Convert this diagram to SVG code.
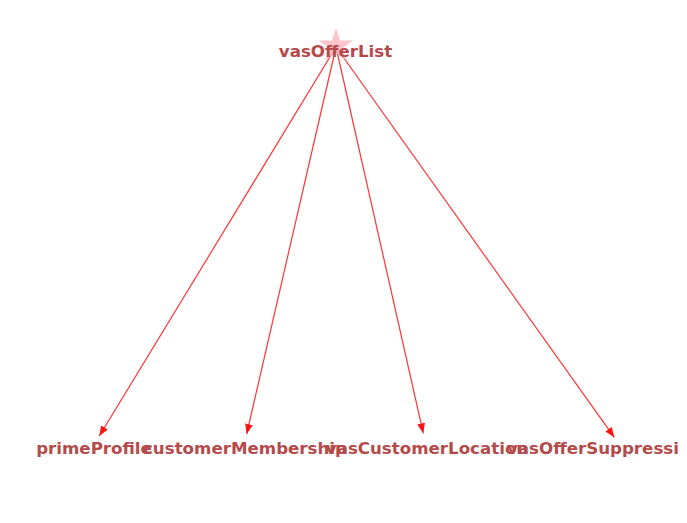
<svg xmlns="http://www.w3.org/2000/svg" width="687" height="523" viewBox="0 0 687 523">
<style>
.lbl{font-family:"DejaVu Sans","Liberation Sans",sans-serif;font-weight:bold;font-size:16.67px;fill:#b44b4b;}
.edge{stroke:#ff0000;stroke-opacity:0.8;stroke-width:1.2;fill:none;marker-end:url(#ah);}
</style>
<defs>
<marker id="ah" markerUnits="userSpaceOnUse" markerWidth="10" markerHeight="8" refX="10" refY="4" orient="auto">
<path d="M0,0 L10,4 L0,8 z" fill="#ff0000" fill-opacity="0.9"/>
</marker>
</defs>
<rect width="687" height="523" fill="#ffffff"/>
<g id="connectors">
<line class="edge" x1="336" y1="47" x2="99.3" y2="436"/>
<line class="edge" x1="336" y1="47" x2="246.7" y2="434"/>
<line class="edge" x1="336" y1="47" x2="423.3" y2="433.3"/>
<line class="edge" x1="336" y1="47" x2="614.3" y2="437.3"/>
</g>
<g id="vasOfferList">
<polygon points="336,28 340.04,40.43 353.12,40.44 342.54,48.13 346.58,60.56 336,52.88 325.42,60.56 329.46,48.13 318.88,40.44 331.96,40.43" fill="#ffb6c1" fill-opacity="0.8"/>
<text class="lbl" x="335.5" y="56.5" text-anchor="middle">vasOfferList</text>
</g>
<g id="primeProfile"><text class="lbl" x="94" y="454" text-anchor="middle">primeProfile</text></g>
<g id="customerMembership"><text class="lbl" x="245" y="454" text-anchor="middle">customerMembership</text></g>
<g id="vasCustomerLocation"><text class="lbl" x="427" y="454" text-anchor="middle">vasCustomerLocation</text></g>
<g id="vasOfferSuppression"><text class="lbl" x="507" y="454" text-anchor="start">vasOfferSuppressi</text></g>
</svg>
